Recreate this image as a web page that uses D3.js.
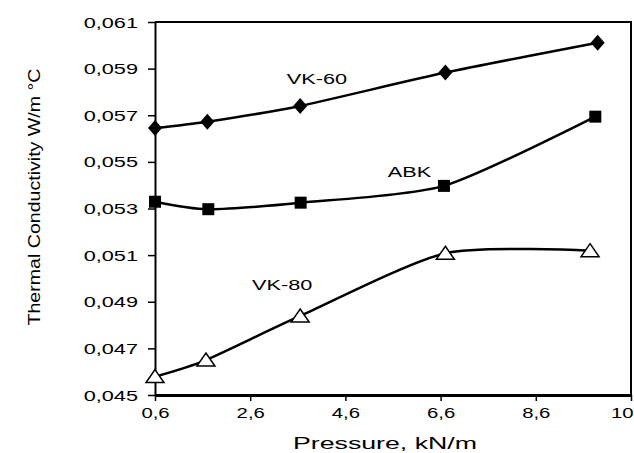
<!DOCTYPE html>
<html>
<head>
<meta charset="utf-8">
<script src="https://cdn.jsdelivr.net/npm/d3@7"></script>
<style>
  body { margin: 0; background: #fff; }
  svg { display: block; font-family: "Liberation Sans", Arial, sans-serif; }
</style>
</head>
<body>
<div id="chart"></div>
<script>
// values
const xTicks = [0.6, 2.6, 4.6, 6.6, 8.6, 10.6];
const xTickLabels = ["0,6", "2,6", "4,6", "6,6", "8,6", "10"];
const yTicks = [0.045, 0.047, 0.049, 0.051, 0.053, 0.055, 0.057, 0.059, 0.061];

const vk60X = [0.6, 1.7, 3.65, 6.7, 9.9];
const vk60Y = [0.05645, 0.05672, 0.0574, 0.05883, 0.06011];

const abkX = [0.6, 1.72, 3.66, 6.67, 9.85];
const abkY = [0.05329, 0.05297, 0.05325, 0.05397, 0.05694];

const vk80X = [0.6, 1.67, 3.65, 6.7, 9.74];
const vk80Y = [0.04579, 0.0465, 0.04839, 0.05108, 0.05119];

const seriesNames = ["VK-60", "ABK", "VK-80"];
const labelX = [3.37, 5.49, 2.64];
const labelY = [0.05834, 0.05435, 0.0495];

const width = 634;
const height = 453;
const margin = { top: 22, right: 3, bottom: 58, left: 155 };

const x = d3.scaleLinear()
  .domain([0.6, 10.6])
  .range([margin.left, width - margin.right]);

const y = d3.scaleLinear()
  .domain([0.045, 0.061])
  .range([height - margin.bottom, margin.top]);

const fmt = d => d3.format(".3f")(d).replace(".", ",");
const fmtX = (d, i) => xTickLabels[i];

const svg = d3.select("#chart").append("svg")
  .attr("width", width)
  .attr("height", height);

// stretch text horizontally like the scanned original
function stretch(sel, k) {
  sel.each(function () {
    const len = this.getComputedTextLength();
    d3.select(this)
      .attr("textLength", len * k)
      .attr("lengthAdjust", "spacingAndGlyphs");
  });
}

// frame (top and right)
svg.append("path")
  .attr("d", `M${x(0.6)},${y(0.061)}H${x(10.6)}V${y(0.045)}`)
  .attr("fill", "none")
  .attr("stroke", "#000")
  .attr("stroke-width", 2);

const xAxis = svg.append("g")
  .attr("transform", `translate(0,${y(0.045)})`)
  .call(d3.axisBottom(x).tickValues(xTicks).tickFormat(fmtX).tickSize(6).tickSizeOuter(0).tickPadding(7));

const yAxis = svg.append("g")
  .attr("transform", `translate(${x(0.6)},0)`)
  .call(d3.axisLeft(y).tickValues(yTicks).tickFormat(fmt).tickSize(7).tickSizeOuter(0).tickPadding(10));

xAxis.select(".domain").attr("stroke-width", 3);
yAxis.select(".domain").attr("stroke-width", 2);
svg.selectAll(".tick line").attr("stroke-width", 1.5);

svg.selectAll(".tick text")
  .attr("font-size", 14)
  .attr("font-family", "Liberation Sans, Arial, sans-serif")
  .attr("fill", "#000");

xAxis.selectAll(".tick text").call(stretch, 1.45);
// last label sits against the right edge, as in the original
xAxis.selectAll(".tick text").filter((d, i) => i === xTicks.length - 1)
  .attr("text-anchor", "end")
  .attr("x", 2);
yAxis.selectAll(".tick text").attr("dy", "0.36em").call(stretch, 1.55);

// axis titles
svg.append("text")
  .attr("x", 385)
  .attr("y", 449)
  .attr("text-anchor", "middle")
  .attr("font-size", 16)
  .attr("textLength", 184)
  .attr("lengthAdjust", "spacingAndGlyphs")
  .text("Pressure, kN/m");

svg.append("text")
  .attr("transform", "translate(40,197) rotate(-90)")
  .attr("text-anchor", "middle")
  .attr("font-size", 17)
  .attr("textLength", 257)
  .attr("lengthAdjust", "spacingAndGlyphs")
  .text("Thermal Conductivity W/m °C");

// lines
const line = d3.line()
  .x(d => x(d[0]))
  .y(d => y(d[1]))
  .curve(d3.curveCardinal.tension(0.3));

const series = [
  d3.zip(vk60X, vk60Y),
  d3.zip(abkX, abkY),
  d3.zip(vk80X, vk80Y)
];

series.forEach(pts => {
  svg.append("path")
    .datum(pts)
    .attr("d", line)
    .attr("fill", "none")
    .attr("stroke", "#000")
    .attr("stroke-width", 2.5);
});

// markers
svg.append("g").selectAll("path")
  .data(series[0])
  .join("path")
  .attr("transform", d => `translate(${x(d[0])},${y(d[1])})`)
  .attr("d", "M0,-8L7,0L0,8L-7,0Z")
  .attr("fill", "#000");

svg.append("g").selectAll("rect")
  .data(series[1])
  .join("rect")
  .attr("x", d => x(d[0]) - 6)
  .attr("y", d => y(d[1]) - 6)
  .attr("width", 12)
  .attr("height", 12)
  .attr("fill", "#000");

svg.append("g").selectAll("path")
  .data(series[2])
  .join("path")
  .attr("transform", d => `translate(${x(d[0])},${y(d[1])})`)
  .attr("d", "M0,-7L9,6H-9Z")
  .attr("fill", "#fff")
  .attr("stroke", "#000")
  .attr("stroke-width", 1.5);

// series labels
svg.append("g").selectAll("text")
  .data(seriesNames)
  .join("text")
  .attr("x", (d, i) => x(labelX[i]))
  .attr("y", (d, i) => y(labelY[i]))
  .attr("font-size", 14)
  .text(d => d)
  .call(stretch, 1.55);
</script>
</body>
</html>
